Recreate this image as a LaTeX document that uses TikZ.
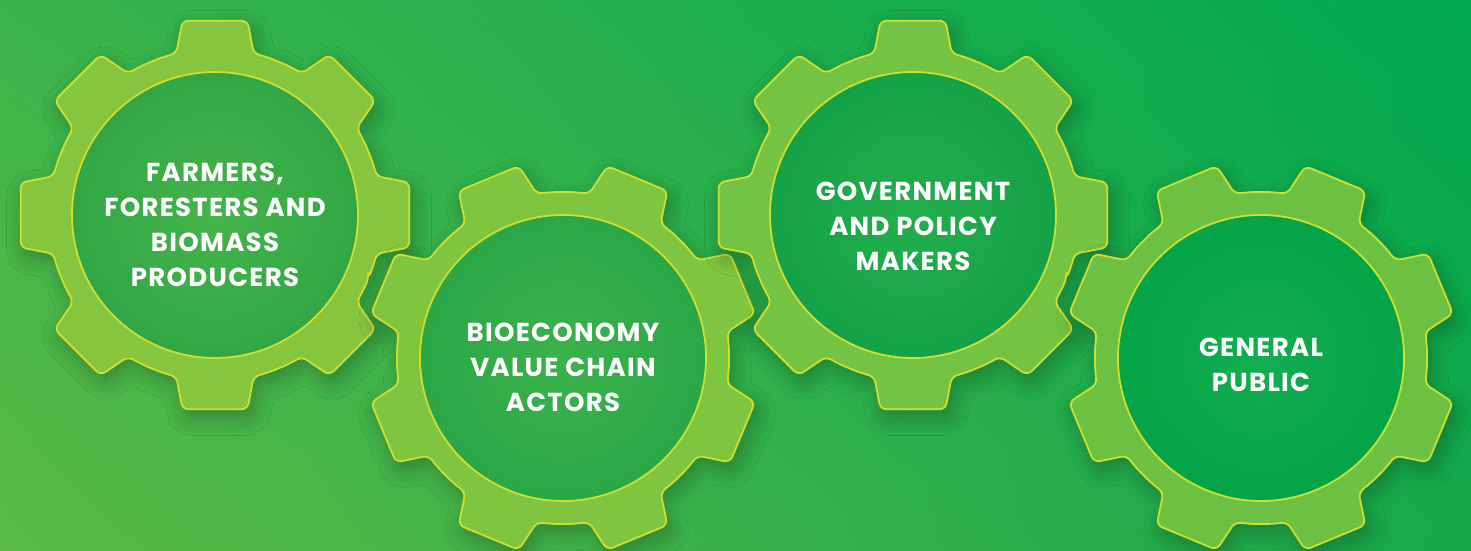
\documentclass[tikz,border=0pt]{standalone}
\usepackage{fontspec}
\usepackage{xcolor}
\usepackage{tikz}
\usetikzlibrary{shadings, shadows.blur}
\newfontfamily\gearfont{Poppins}[LetterSpace = 5]

\definecolor{bgUL}{HTML}{3AB44A}
\definecolor{bgUR}{HTML}{00A94F}
\definecolor{bgLL}{HTML}{5BBA47}
\definecolor{bgLR}{HTML}{16A84A}
\definecolor{rimline}{HTML}{CFDF2F}
\definecolor{ring1}{HTML}{86C63F}
\definecolor{ring2}{HTML}{7FC540}
\definecolor{ring3}{HTML}{75C343}
\definecolor{ring4}{HTML}{6CC142}
\definecolor{hubin1}{HTML}{45B44A}
\definecolor{hubout1}{HTML}{32A646}
\definecolor{hubin2}{HTML}{3BB34A}
\definecolor{hubout2}{HTML}{28A547}
\definecolor{hubin3}{HTML}{24AE4C}
\definecolor{hubout3}{HTML}{14A248}
\definecolor{hubin4}{HTML}{12AE4F}
\definecolor{hubout4}{HTML}{02A248}

\begin{document}
\begin{tikzpicture}[x = 1pt, y = 1pt,
		gearring/.style = {draw = rimline, line width = 1.8pt, rounded corners = 6pt,
			blur shadow = {shadow xshift = 4pt, shadow yshift = -8pt, shadow blur radius = 18pt, shadow blur steps = 14, shadow opacity = 28}},
		gearhub/.style = {draw = rimline, line width = 1.8pt},
		gearlabel/.style = {text = white, align = center, font = \gearfont\bfseries\fontsize{26}{35}\selectfont}]
					\def\tipR{197};
					\def\bodyR{166};
					\def\hubR{143};

					\useasboundingbox (0,0) rectangle (1471,550);

					\begin{scope}
						\clip (0,0) rectangle (1471,550);
						\shade[upper left = bgUL, upper right = bgUR, lower left = bgLL, lower right = bgLR] (0,0) rectangle (1471,550);

						\foreach \cx/\cy/\rot/\n in {215/335/0/1, 563/192/22.5/2, 913/335/0/3, 1261/192/22.5/4}
						{
							\begin{scope}[shift = {(\cx,\cy)}, rotate = \rot]
								\filldraw[gearring, fill = ring\n] (-22.5:\bodyR)
									\foreach \a in {0,45,...,315}
									{
										arc[start angle = \a-22.5, end angle = \a-13.5, radius = \bodyR]
										-- (\a-9.5:\tipR) -- (\a+9.5:\tipR) -- (\a+13.5:\bodyR)
										arc[start angle = \a+13.5, end angle = \a+22.5, radius = \bodyR]
									} -- cycle;
								\shade[inner color = hubin\n, outer color = hubout\n] (0,0) circle (\hubR);
								\draw[gearhub] (0,0) circle (\hubR);
							\end{scope}
						}
					\end{scope}

					\node[gearlabel] (farmers) at (215,325) {FARMERS,\\FORESTERS AND\\BIOMASS\\PRODUCERS};
					\node[gearlabel] (actors) at (563,183) {BIOECONOMY\\VALUE CHAIN\\ACTORS};
					\node[gearlabel] (policy) at (913,324) {GOVERNMENT\\AND POLICY\\MAKERS};
					\node[gearlabel] (public) at (1261,185) {GENERAL\\PUBLIC};
				\end{tikzpicture}
\end{document}
